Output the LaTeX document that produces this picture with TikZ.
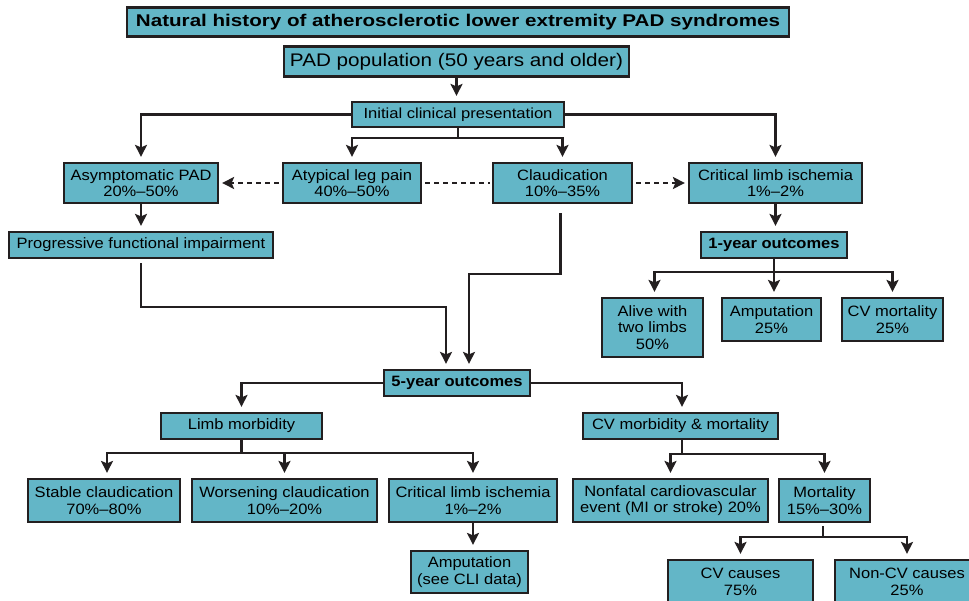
\documentclass[tikz,border=0pt]{standalone}
\usepackage{fontspec}
\setmainfont{Liberation Sans}[FakeStretch=1.1]
\usetikzlibrary{arrows.meta}
\definecolor{boxC}{RGB}{99,182,199}
\definecolor{lineC}{RGB}{35,31,32}
\tikzset{
  box/.style={draw=lineC, fill=boxC, line width=2.2pt, inner sep=0pt, align=center,
    font=\fontsize{15}{16.5}\selectfont},
  conn/.style={draw=lineC, line width=2.1pt},
  arr/.style={conn, -{Stealth[length=12pt,width=12pt,inset=2.5pt]}, shorten >=5pt},
  dsh/.style={conn, dash pattern=on 5pt off 4pt},
  darr/.style={dsh, -{Stealth[length=12pt,width=12pt,inset=2.5pt]}, shorten >=3pt, shorten <=3pt}
}
\begin{document}
\begin{tikzpicture}[x=1pt,y=-1pt]
\useasboundingbox (0,0) rectangle (969,601);
% nodes
\node[box, minimum width=662, minimum height=29] (title) at (458,22)
  {\resizebox{644pt}{12.3pt}{\bfseries Natural history of atherosclerotic lower extremity PAD syndromes}};
\node[box, minimum width=345, minimum height=30] (pop) at (456.5,61.5)
  {\resizebox{333pt}{13.2pt}{PAD population (50 years and older)}};
\node[box, minimum width=212, minimum height=25] (init) at (458,114.5)
  {\resizebox{189pt}{10.6pt}{Initial clinical presentation}};
\node[box, minimum width=154, minimum height=40] (asym) at (141,183) {Asymptomatic PAD\\20\%--50\%};
\node[box, minimum width=138, minimum height=40] (atyp) at (352,183) {Atypical leg pain\\40\%--50\%};
\node[box, minimum width=139, minimum height=40] (claud) at (562.5,183) {Claudication\\10\%--35\%};
\node[box, minimum width=173, minimum height=40] (cli) at (775.5,183) {Critical limb ischemia\\1\%--2\%};
\node[box, minimum width=264, minimum height=26] (pfi) at (141,245) {Progressive functional impairment};
\node[box, minimum width=146, minimum height=26] (oneyr) at (774,245) {\bfseries 1-year outcomes};
\node[box, minimum width=101, minimum height=59] (alive) at (652.5,327.5) {Alive with\\two limbs\\50\%};
\node[box, minimum width=99, minimum height=43] (amp1) at (771.5,319.5) {Amputation\\25\%};
\node[box, minimum width=101, minimum height=43] (cvm) at (892.5,319.5) {CV mortality\\25\%};
\node[box, minimum width=146, minimum height=26] (five) at (457,383) {\bfseries 5-year outcomes};
\node[box, minimum width=161, minimum height=26] (limb) at (241.5,426) {Limb morbidity};
\node[box, minimum width=195, minimum height=26] (cvmm) at (680.5,426) {CV morbidity \& mortality};
\node[box, minimum width=152, minimum height=43] (stable) at (104,500.5) {Stable claudication\\70\%--80\%};
\node[box, minimum width=185, minimum height=43] (worse) at (284.5,500.5) {Worsening claudication\\10\%--20\%};
\node[box, minimum width=168, minimum height=43] (cli2) at (473,500.5) {Critical limb ischemia\\1\%--2\%};
\node[box, minimum width=117, minimum height=42] (amp2) at (469.5,572) {Amputation\\(see CLI data)};
\node[box, minimum width=195, minimum height=43] (nonfatal) at (670.5,500.5) {Nonfatal cardiovascular\\event (MI or stroke) 20\%};
\node[box, minimum width=91, minimum height=43] (mort) at (824.5,500.5) {Mortality\\15\%--30\%};
\node[box, minimum width=145, minimum height=44] (cvc) at (740.5,582) {CV causes\\75\%};
\node[box, minimum width=144, minimum height=44] (noncv) at (907,582) {Non-CV causes\\25\%};
% connectors
\draw[arr] (pop.south) -- (pop.south |- init.north);
\draw[arr] (init.west) -| (asym.north);
\draw[arr] (init.east) -| (cli.north);
\coordinate (j1) at ([yshift=-10]init.south);
\draw[conn] (init.south) -- (j1);
\draw[arr] (j1) -| (atyp.north);
\draw[arr] (j1) -| (claud.north);
\draw[darr] (atyp.west) -- (asym.east);
\draw[dsh, shorten <=3pt, shorten >=2pt] (atyp.east) -- (claud.west);
\draw[darr] (claud.east) -- (cli.west);
\draw[arr] (asym.south) -- (pfi.north);
\draw[arr, shorten <=4pt] (pfi.south) -- ++(0,48) -| ([xshift=-11]five.north);
\draw[arr, shorten <=9pt] ([xshift=-2]claud.south) -- ++(0,70) -| ([xshift=12]five.north);
\draw[arr] (cli.south) -- (cli.south |- oneyr.north);
\coordinate (j2) at ([yshift=-13]oneyr.south);
\draw[conn] (oneyr.south) -- (j2);
\draw[arr] (j2) -| ([xshift=2]alive.north);
\draw[arr] (j2) -- (j2 |- amp1.north);
\draw[arr] (j2) -| (cvm.north);
\draw[arr] (five.west) -| (limb.north);
\draw[arr] (five.east) -| ([xshift=1.5]cvmm.north);
\coordinate (j3) at ([yshift=-13]limb.south);
\draw[conn] (limb.south) -- (j3);
\draw[arr] (j3) -| ([xshift=3]stable.north);
\draw[arr] (j3) -| (worse.north);
\draw[arr] (j3) -| (cli2.north);
\draw[arr] (cli2.south) -- (cli2.south |- amp2.north);
\coordinate (j4) at ([yshift=-14]cvmm.south);
\draw[conn] ([xshift=1.5]cvmm.south) -- ([xshift=1.5]j4);
\draw[arr] ([xshift=1.5]j4) -| (nonfatal.north);
\draw[arr] ([xshift=1.5]j4) -| (mort.north);
\coordinate (j5) at ([yshift=-14]mort.south);
\draw[conn, shorten <=3pt] ([xshift=-1.5]mort.south) -- ([xshift=-1.5]j5);
\draw[arr] ([xshift=-1.5]j5) -| (cvc.north);
\draw[arr] ([xshift=-1.5]j5) -| (noncv.north);
\end{tikzpicture}
\end{document}
